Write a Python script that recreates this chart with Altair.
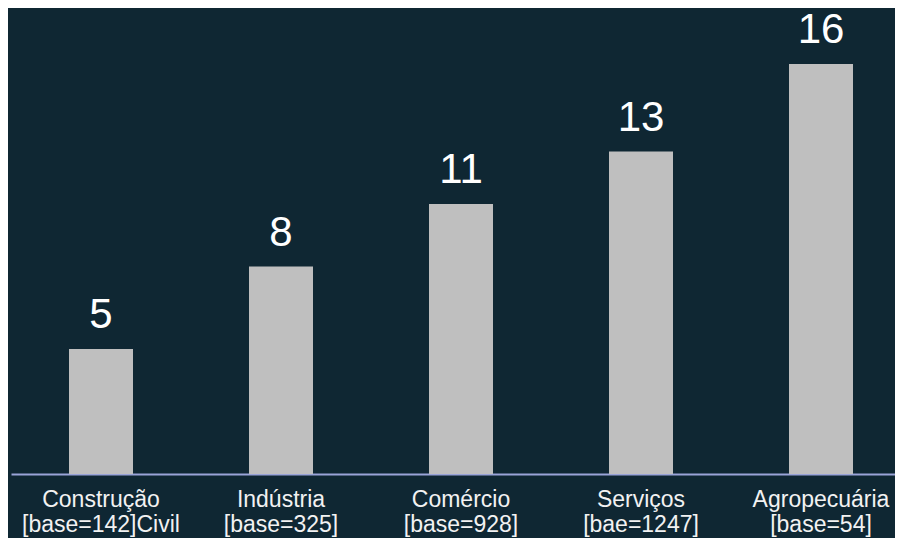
import altair as alt
import pandas as pd

categories = ["Construção", "Indústria", "Comércio", "Serviços", "Agropecuária"]
bases = ["[base=142]Civil", "[base=325]", "[base=928]", "[bae=1247]", "[base=54]"]
values = [5.0, 8.3, 10.8, 12.9, 16.4]
labels = ["5", "8", "11", "13", "16"]

df = pd.DataFrame({
    "cat": [c + "|" + b for c, b in zip(categories, bases)],
    "value": values,
    "label": labels,
})
order = list(df["cat"])

x = alt.X("cat:N", sort=order,
          scale=alt.Scale(paddingInner=0.6, paddingOuter=0.3, range=[0, 900]),
          axis=alt.Axis(title=None, labelAngle=0, ticks=False, grid=False,
                        domainColor="#9aa4d8", domainWidth=2,
                        labelExpr="split(datum.label, '|')",
                        labelFont="Liberation Sans", labelFontSize=23,
                        labelColor="#f2f2f2", labelPadding=14,
                        labelLineHeight=25, labelBaseline="top"))
y = alt.Y("value:Q", scale=alt.Scale(domain=[0, 18], nice=False, zero=True), axis=None)

bars = alt.Chart(df).mark_bar(color="#bfbfbf", size=64).encode(x=x, y=y)
text = alt.Chart(df).mark_text(font="Liberation Sans", fontSize=42, color="#ffffff",
                               baseline="alphabetic", dy=-21).encode(x=x, y=y, text="label:N")

chart = (bars + text).properties(
    width=884, height=450,
    autosize=alt.AutoSizeParams(type="none"),
    padding={"left": 3, "right": 0, "top": 16, "bottom": 64},
    background="#0f2733",
).configure_view(stroke=None)

chart.save("out.html", embed_options={"renderer": "svg", "actions": False})
